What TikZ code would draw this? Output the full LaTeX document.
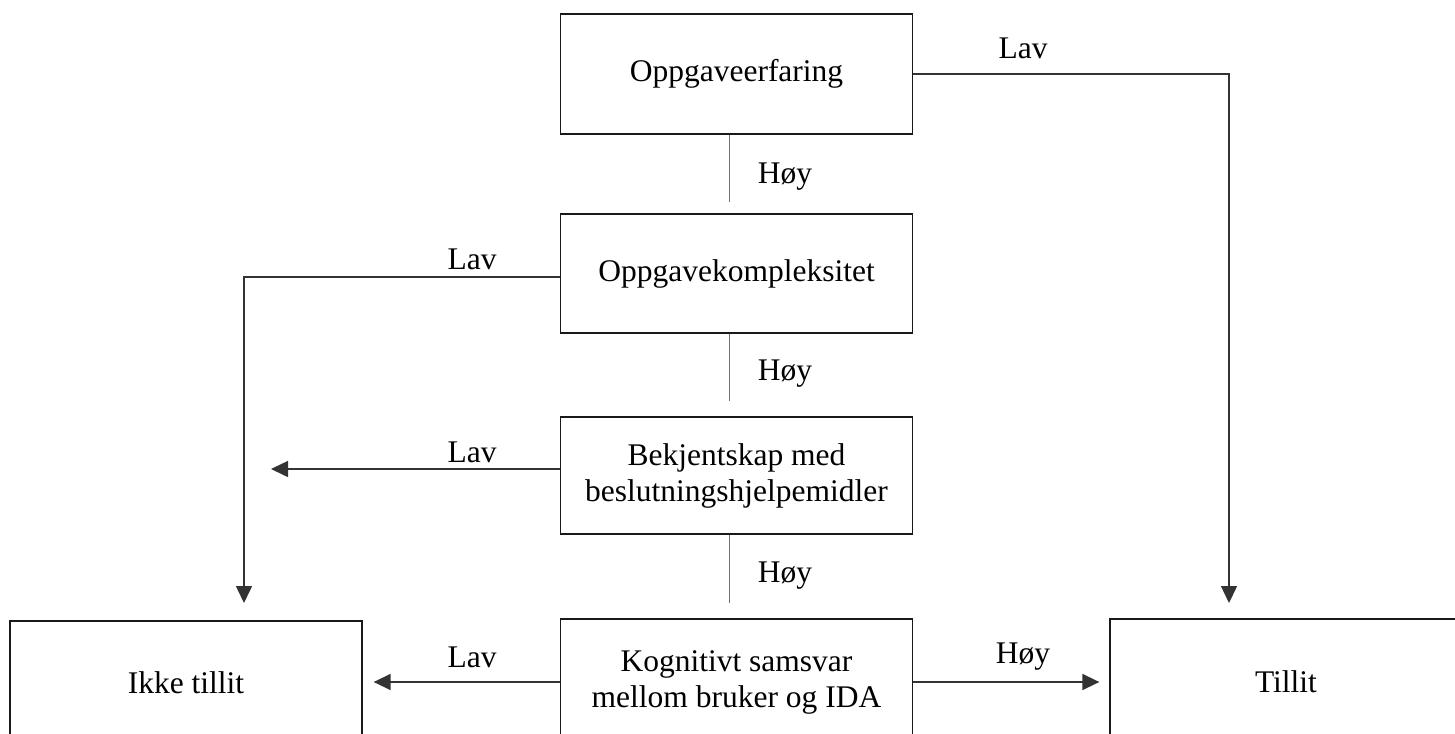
\documentclass[tikz,border=0pt]{standalone}
\usepackage{fontspec}
\setmainfont{Liberation Serif}
\usetikzlibrary{arrows.meta}
\begin{document}
\begin{tikzpicture}[x=1pt,y=-1pt,
  box/.style={draw=black!90,line width=1.3pt,rectangle,minimum width=352pt,inner sep=0pt,align=center,font=\fontsize{31.5}{36}\selectfont},
  conn/.style={draw=black!80,line width=1.5pt},
  arr/.style={conn,-{Triangle[length=17pt,width=16pt]}},
  thinl/.style={draw=black!55,line width=0.8pt},
  lbl/.style={anchor=base,inner sep=0pt,font=\fontsize{31.5}{36}\selectfont}]
\useasboundingbox (0,0) rectangle (1455,733);
\clip (0,0) rectangle (1455,733);
\fill[white] (0,0) rectangle (1455,733);
% boxes
\node[box,minimum height=120pt] (b1) at (736.5,74) {Oppgaveerfaring};
\node[box,minimum height=119pt] (b2) at (736.5,273.5) {Oppgavekompleksitet};
\node[box,minimum height=117pt] (b3) at (736.5,475.5) {Bekjentskap med\\beslutningshjelpemidler};
\node[box,minimum height=126pt] (b4) at (736.5,682) {Kognitivt samsvar\\mellom bruker og IDA};
\node[box,minimum height=124pt] (ikke) at (186,683) {Ikke tillit};
\node[box,minimum height=126pt] (till) at (1286,682) {Tillit};
% coordinates
\coordinate (tR) at (1229,603);
\coordinate (tL) at (244,603);
\coordinate (m3) at (271,469);
\coordinate (v1) at (729,202);
\coordinate (v2) at (729,401);
\coordinate (v3) at (729,603);
% vertical thin lines
\draw[thinl] (b1.south -| v1) -- (v1);
\draw[thinl] (b2.south -| v2) -- (v2);
\draw[thinl] (b3.south -| v3) -- (v3);
% connectors
\draw[arr] (b1.east) -| (tR);
\draw[arr] ([yshift=-3.5pt]b2.west) -| (tL);
\draw[arr] (b3.west |- m3) -- (m3);
\draw[arr,shorten >=11pt] (b4.west) -- (ikke.east |- b4.west);
\draw[arr,shorten >=10pt] (b4.east) -- (till.west |- b4.east);
% labels
\node[lbl] (h1) at (785,183) {Høy};
\node[lbl] (h2) at (785,380) {Høy};
\node[lbl] (h3) at (785,582) {Høy};
\node[lbl] (h4) at (1023,663) {Høy};
\node[lbl] (l1) at (1023,59) {Lav};
\node[lbl] (l2) at (472,269) {Lav};
\node[lbl] (l3) at (472,462) {Lav};
\node[lbl] (l4) at (472,667) {Lav};
\end{tikzpicture}
\end{document}
